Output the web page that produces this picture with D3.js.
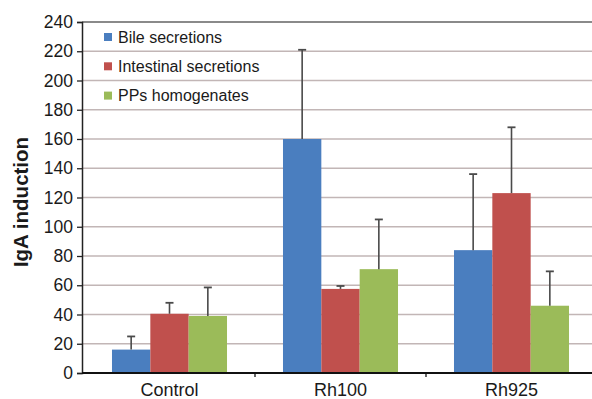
<!DOCTYPE html>
<html><head><meta charset="utf-8">
<script src="https://cdn.jsdelivr.net/npm/d3@7"></script>
<style>body{margin:0;background:#fff}svg{display:block;font-family:"Liberation Sans",Arial,sans-serif}</style>
</head><body>
<svg id="c" width="592" height="399"></svg>
<script>
const categories = ["Control", "Rh100", "Rh925"];
const seriesNames = ["Bile secretions", "Intestinal secretions", "PPs homogenates"];
const bile = [16, 160, 84];
const bileErr = [9, 61, 52];
const intestinal = [40.5, 57.5, 123];
const intestinalErr = [7.5, 2, 45];
const pps = [39, 71, 46];
const ppsErr = [19.5, 34, 23.5];
const yTicks = [0, 20, 40, 60, 80, 100, 120, 140, 160, 180, 200, 220, 240];
const colors = ["#4a7ebf", "#c0504d", "#9bbb59"];

(function () {
const values = [bile, intestinal, pps];
const errs = [bileErr, intestinalErr, ppsErr];

const svg = d3.select("#c");
const pLeft = 82, pTop = 22, pBottom = 373;
const y = d3.scaleLinear().domain([0, 240]).range([pBottom, pTop]);
const x0 = d3.scaleBand().domain(categories).range([84, 597]).padding(0);
const x1 = d3.scaleBand().domain(seriesNames).range([0, x0.bandwidth()]).paddingInner(0).paddingOuter(0.73);

// gridlines
svg.append("g").selectAll("line").data(yTicks.filter(t => t > 0 && t < 240)).join("line")
  .attr("x1", pLeft).attr("x2", 592).attr("y1", d => y(d)).attr("y2", d => y(d))
  .attr("stroke", "#c2b6b6").attr("stroke-width", 1.6);
svg.append("line").attr("x1", pLeft).attr("x2", 592).attr("y1", y(240)).attr("y2", y(240))
  .attr("stroke", "#8a8a8a").attr("stroke-width", 2);

// bars
const groups = svg.append("g").selectAll("g").data(categories).join("g")
  .attr("transform", d => `translate(${x0(d)},0)`);
seriesNames.forEach((s, si) => {
  groups.append("rect")
    .attr("x", x1(s)).attr("width", x1.bandwidth())
    .attr("y", (d, i) => y(values[si][i]))
    .attr("height", (d, i) => y(0) - y(values[si][i]))
    .attr("fill", colors[si]);
});
// error bars
seriesNames.forEach((s, si) => {
  const cx = x1(s) + x1.bandwidth() / 2;
  groups.append("line")
    .attr("x1", cx).attr("x2", cx)
    .attr("y1", (d, i) => y(values[si][i]))
    .attr("y2", (d, i) => y(values[si][i] + errs[si][i]))
    .attr("stroke", "#4a4a4a").attr("stroke-width", 1.6);
  groups.append("line")
    .attr("x1", cx - 4).attr("x2", cx + 4)
    .attr("y1", (d, i) => y(values[si][i] + errs[si][i]))
    .attr("y2", (d, i) => y(values[si][i] + errs[si][i]))
    .attr("stroke", "#4a4a4a").attr("stroke-width", 1.8);
});

// y axis
const yAxis = d3.axisLeft(y).tickValues(yTicks).tickSize(5).tickPadding(4);
const gy = svg.append("g").attr("transform", `translate(${pLeft},0)`).call(yAxis);
gy.select(".domain").attr("stroke", "#222").attr("stroke-width", 1.5);
gy.selectAll(".tick line").attr("stroke", "#222").attr("stroke-width", 1.3);
gy.selectAll("text").attr("font-size", 17.5).attr("fill", "#1a1a1a")
  .attr("font-family", "'Liberation Sans', Arial, sans-serif");

// x axis
svg.append("line").attr("x1", pLeft).attr("x2", 592).attr("y1", pBottom).attr("y2", pBottom)
  .attr("stroke", "#111").attr("stroke-width", 1.8);
svg.append("g").selectAll("line").data(categories.slice(1)).join("line")
  .attr("x1", d => x0(d)).attr("x2", d => x0(d)).attr("y1", pBottom).attr("y2", pBottom + 4)
  .attr("stroke", "#111").attr("stroke-width", 1.3);
svg.append("g").selectAll("text").data(categories).join("text")
  .attr("x", d => x0(d) + x0.bandwidth() / 2).attr("y", 396)
  .attr("text-anchor", "middle").attr("font-size", 18).attr("fill", "#1a1a1a")
  .text(d => d);

// y label
svg.append("text").attr("transform", "translate(28,202) rotate(-90)")
  .attr("text-anchor", "middle").attr("font-size", 20.5).attr("font-weight", "bold")
  .attr("fill", "#1a1a1a").text("IgA induction");

// legend
const leg = svg.append("g").selectAll("g").data(seriesNames).join("g")
  .attr("transform", (d, i) => `translate(104,${37 + i * 29.3})`);
leg.append("rect").attr("x", 0).attr("y", -4).attr("width", 8).attr("height", 8)
  .attr("fill", (d, i) => colors[i]);
leg.append("text").attr("x", 14).attr("y", 5.5).attr("font-size", 16).attr("fill", "#1a1a1a")
  .text(d => d);
})();
</script>
</body></html>
